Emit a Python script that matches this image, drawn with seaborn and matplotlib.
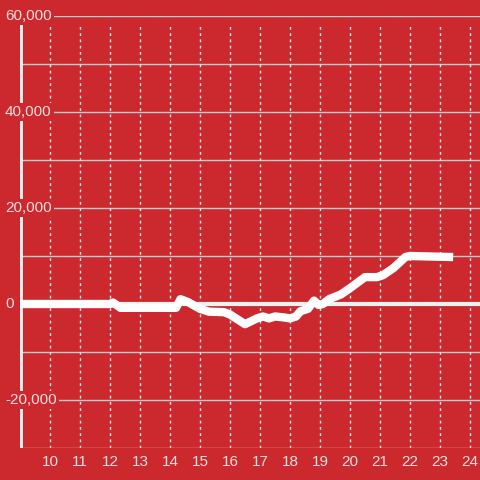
import matplotlib
matplotlib.use("Agg")
import matplotlib.pyplot as plt
import seaborn as sns
import pandas as pd

# --- data ---
hours = [9.0, 12.0, 12.1, 12.35, 14.2, 14.35, 14.6, 15.0, 15.3, 15.8, 16.0, 16.5,
         16.9, 17.1, 17.3, 17.5, 17.8, 18.0, 18.2, 18.35, 18.6, 18.8, 18.95, 19.1,
         19.3, 19.7, 20.0, 20.5, 20.9, 21.1, 21.45, 21.85, 22.0, 23.3]
values = [0, 0, 300, -800, -800, 1000, 400, -1000, -1600, -1700, -2200, -4200,
          -3000, -2600, -3000, -2600, -2800, -3000, -2600, -1500, -1000, 700, -200, 0,
          1000, 2000, 3300, 5600, 5600, 6000, 7500, 9800, 10000, 9800]
x_ticks = list(range(10, 25))
y_label_vals = [60000, 40000, 20000, 0, -20000]

df = pd.DataFrame({"hour": hours, "value": values})

bg = "#cc292e"
txt = "#f3dddd"

sns.set_style("white")
plt.rcParams["font.family"] = ["Liberation Sans", "DejaVu Sans"]

fig = plt.figure(figsize=(4.8, 4.8), dpi=100, facecolor=bg)
ax = fig.add_axes([20 / 480, 32 / 480, 460 / 480, 432 / 480])
ax.set_facecolor(bg)

# grid
for v in range(-30000, 60001, 10000):
    ax.axhline(v, color="#c9c9c9", lw=1, zorder=1)
for h in x_ticks:
    ax.axvline(h, ymax=0.984, color="#e6e6e6", lw=1, ls=(0, (2, 2.5)), zorder=1)
ax.axhline(0, color="#f0f0f0", lw=3, zorder=2)
ax.axvline(9, ymax=0.984, color="#f0f0f0", lw=3.5, zorder=2)

sns.lineplot(data=df, x="hour", y="value", color="white", lw=6, ax=ax, zorder=3,
             solid_capstyle="projecting", solid_joinstyle="round")

ax.set_xlim(9, 24.333)
ax.set_ylim(-30000, 60000)
for s in ax.spines.values():
    s.set_visible(False)

ax.set_xticks(x_ticks)
ax.set_xticklabels([str(h) for h in x_ticks], color=txt, fontsize=11)
ax.tick_params(axis="x", length=0, pad=5)
ax.set_yticks([])
ax.set_xlabel("")
ax.set_ylabel("")

for v in y_label_vals:
    ax.text(-15 / 460, v, f"{v:,}", transform=ax.get_yaxis_transform(),
            ha="left", va="center", color=txt, fontsize=11, zorder=5,
            bbox=dict(facecolor=bg, edgecolor="none", pad=1.5))

fig.savefig("out.png", dpi=100, facecolor=bg)
